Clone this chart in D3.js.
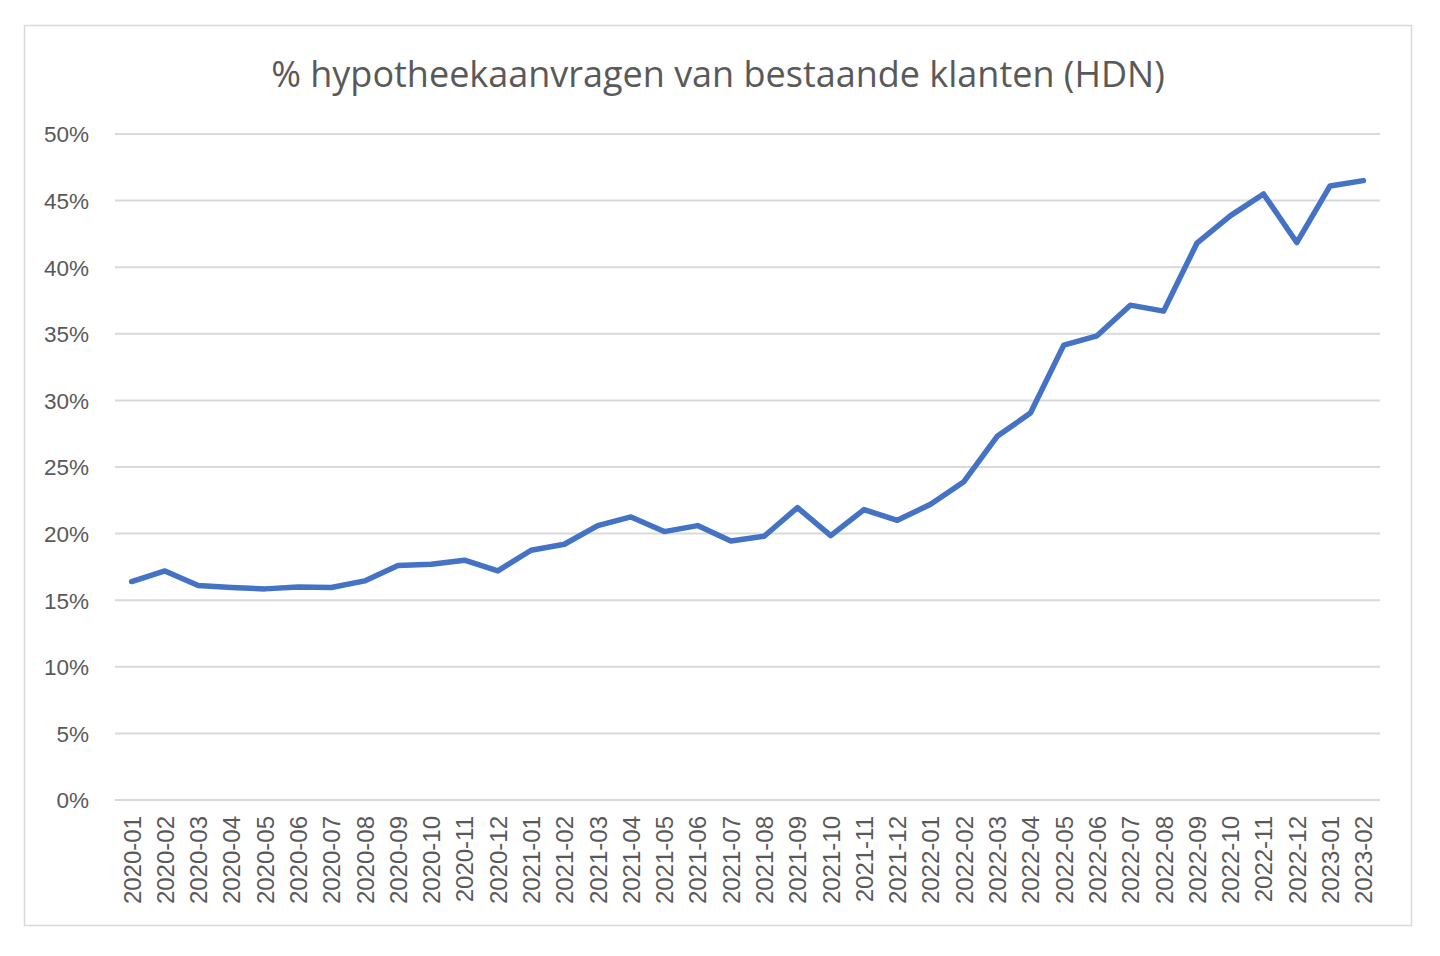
<!DOCTYPE html>
<html>
<head>
<meta charset="utf-8">
<script src="https://cdn.jsdelivr.net/npm/d3@7"></script>
<style>
html,body{margin:0;padding:0;background:#fff;}
svg{display:block;}
</style>
</head>
<body>
<svg id="chart" width="1440" height="956"></svg>
<script>
const title = "% hypotheekaanvragen van bestaande klanten (HDN)";
const months = ["2020-01","2020-02","2020-03","2020-04","2020-05","2020-06","2020-07","2020-08","2020-09","2020-10","2020-11","2020-12",
"2021-01","2021-02","2021-03","2021-04","2021-05","2021-06","2021-07","2021-08","2021-09","2021-10","2021-11","2021-12",
"2022-01","2022-02","2022-03","2022-04","2022-05","2022-06","2022-07","2022-08","2022-09","2022-10","2022-11","2022-12",
"2023-01","2023-02"];
const shares = [16.4,17.2,16.1,15.95,15.85,16.0,15.95,16.45,17.6,17.7,18.0,17.2,
18.75,19.2,20.6,21.25,20.15,20.6,19.45,19.8,21.95,19.85,21.8,21.0,
22.2,23.9,27.3,29.05,34.15,34.85,37.15,36.7,41.8,43.85,45.5,41.85,
46.1,46.5];
const yTicks = [0,5,10,15,20,25,30,35,40,45,50];

(function(){
const svg = d3.select("#chart");
const grey = "#595959";
const font = "'Liberation Sans', Arial, sans-serif";

svg.append("rect").attr("x",24.5).attr("y",25.5).attr("width",1387).attr("height",900)
  .attr("fill","#fff").attr("stroke","#d9d9d9").attr("stroke-width",1.5);

const pLeft = 115, pRight = 1380, pTop = 134, pBottom = 800;
const x = d3.scalePoint().domain(months).range([pLeft, pRight]).padding(0.5);
const y = d3.scaleLinear().domain([0,50]).range([pBottom, pTop]);

svg.append("g").selectAll("line").data(yTicks).join("line")
  .attr("x1",pLeft).attr("x2",pRight)
  .attr("y1",d=>y(d)).attr("y2",d=>y(d))
  .attr("stroke","#d9d9d9").attr("stroke-width",2);

const yAxis = d3.axisLeft(y).tickValues(yTicks).tickFormat(d=>d+"%").tickSize(0).tickPadding(0);
const gy = svg.append("g").attr("transform",`translate(89,0)`).call(yAxis);
gy.select(".domain").remove();
gy.selectAll("text").attr("font-family",font).attr("font-size",22.5).attr("fill",grey).attr("dy","0.35em");

const xAxis = d3.axisBottom(x).tickSize(0).tickPadding(0);
const gx = svg.append("g").attr("transform",`translate(0,${pBottom})`).call(xAxis);
gx.select(".domain").remove();
gx.selectAll("text")
  .attr("font-family",font).attr("font-size",24).attr("fill",grey)
  .attr("transform","rotate(-90)")
  .attr("text-anchor","end")
  .attr("x",-16).attr("y",0).attr("dy","0.35em");

const line = d3.line().x((d,i)=>x(months[i])).y(d=>y(d));
svg.append("path").datum(shares).attr("d",line)
  .attr("fill","none").attr("stroke","#4472C4").attr("stroke-width",5.5)
  .attr("stroke-linejoin","round").attr("stroke-linecap","round");

const t = svg.append("text").attr("x",718).attr("y",87).attr("text-anchor","middle")
  .attr("font-family","'Open Sans', sans-serif").attr("font-size",32).attr("fill",grey).text(title);
const w = t.node().getComputedTextLength();
t.attr("font-size", 32*894/w);
})();
</script>
</body>
</html>
